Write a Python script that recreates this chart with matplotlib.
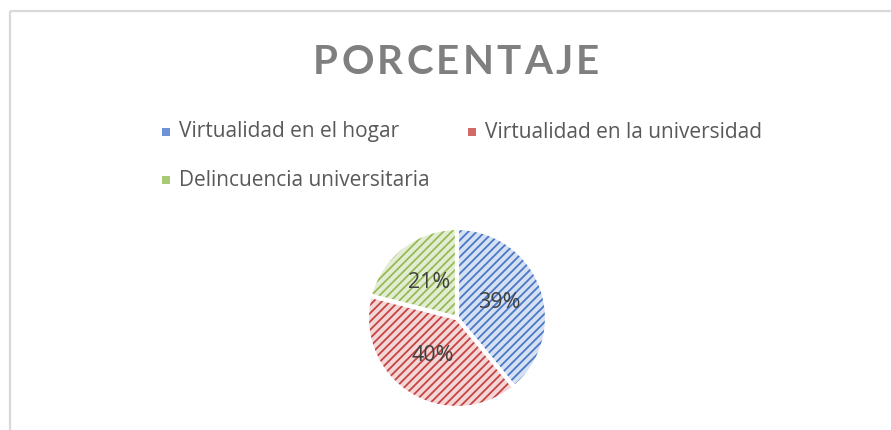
import matplotlib
matplotlib.use("Agg")
import matplotlib.pyplot as plt
from matplotlib.patches import Rectangle

categories = ["Virtualidad en el hogar", "Virtualidad en la universidad", "Delincuencia universitaria"]
values = [39, 40, 21]
title = "PORCENTAJE"

stripe_colors = ["#4A78C6", "#C44441", "#96BA56"]
back_colors = ["#D5E0F2", "#F4D6D6", "#E3EDD3"]
legend_colors = ["#6E92D4", "#D06B6A", "#A9C878"]

plt.rcParams['font.family'] = ['Lato', 'DejaVu Sans']
plt.rcParams['hatch.linewidth'] = 1.3

W, H = 891, 430
fig = plt.figure(figsize=(W / 100, H / 100), dpi=100)
fig.patch.set_facecolor("white")

# full-figure overlay axes in pixel coords
bg = fig.add_axes([0, 0, 1, 1])
bg.set_xlim(0, W)
bg.set_ylim(H, 0)
bg.axis("off")

# border (top and left lines)
bg.plot([10, W], [11, 11], color="#D9D9D9", lw=1.6, solid_capstyle="butt")
bg.plot([10, 10], [11, H], color="#D9D9D9", lw=1.6, solid_capstyle="butt")

# pie axes
cx, cy, R = 457, 318, 90
ax = fig.add_axes([(cx - 100) / W, (H - cy - 100) / H, 200 / W, 200 / H])

wedges, _, autotexts = ax.pie(values, radius=R, startangle=90, counterclock=False,
                              colors=back_colors, autopct='%1.0f%%', pctdistance=0.5,
                              wedgeprops=dict(linewidth=0), frame=True,
                              textprops=dict(fontsize=15.5, color="#404040",
                                             family=['Open Sans', 'DejaVu Sans']))
for w, sc in zip(wedges, stripe_colors):
    w.set_hatch("////")
    w.set_edgecolor(sc)
    w.set_linewidth(0)
ax.pie(values, radius=R, startangle=90, counterclock=False,
       colors=["none"] * 3, wedgeprops=dict(linewidth=3, edgecolor="white"), frame=True)
ax.axis("off")
ax.set_xlim(-100, 100)
ax.set_ylim(-100, 100)
for t in autotexts:
    t.set_zorder(10)

# title with letter spacing
fig.canvas.draw()
renderer = fig.canvas.get_renderer()
tfs = 29
widths = []
for ch in title:
    t = bg.text(0, 0, ch, fontsize=tfs, fontweight="bold")
    widths.append(t.get_window_extent(renderer).width)
    t.remove()
left_t, right_t = 313, 599
track = (right_t - left_t - sum(widths)) / (len(title) - 1)
x = left_t
for ch, wdt in zip(title, widths):
    bg.text(x, 63, ch, fontsize=tfs, fontweight="bold", color="#7F7F7F",
            ha="left", va="center")
    x += wdt + track

# legend
leg_items = [(166, 132), (472, 132), (166, 180)]
for (lx, ly), lab, lc in zip(leg_items, categories, legend_colors):
    bg.add_patch(Rectangle((lx - 4, ly - 4), 8, 8, facecolor=lc, edgecolor="none"))
    bg.text(lx + 13, ly, lab, fontsize=15, color="#595959", ha="left", va="center",
            family=['Open Sans', 'DejaVu Sans'])

fig.savefig("out.png", dpi=100, facecolor="white")
